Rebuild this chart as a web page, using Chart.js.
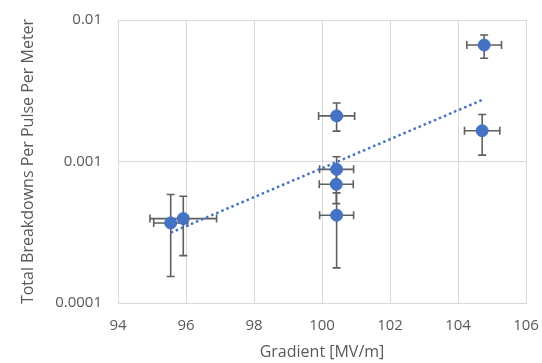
<!DOCTYPE html>
<html>
<head>
<meta charset="utf-8">
<script src="https://cdn.jsdelivr.net/npm/chart.js@4"></script>
<style>
  html, body { margin: 0; padding: 0; background: #fff; }
  #wrap { width: 542px; height: 363px; }
</style>
</head>
<body>
<div id="wrap"><canvas id="myChart" width="542" height="363"></canvas></div>
<script>
// measured points
const gradient = [95.55, 95.92, 100.43, 100.43, 100.42, 100.43, 104.77, 104.71];
const gradErr  = [0.50, 0.98, 0.53, 0.50, 0.50, 0.50, 0.51, 0.52];
const rate     = [3.68e-4, 3.95e-4, 2.10e-3, 8.8e-4, 6.9e-4, 4.17e-4, 6.65e-3, 1.65e-3];
const rateHigh = [5.84e-4, 5.68e-4, 2.59e-3, 1.08e-3, 8.8e-4, 6.0e-4, 7.83e-3, 2.15e-3];
const rateLow  = [1.54e-4, 2.16e-4, 1.64e-3, 7.0e-4, 5.04e-4, 1.77e-4, 5.36e-3, 1.11e-3];

// exponential trendline (straight on log axis)
const trendX = [95.55, 104.77];
const trendY = [3.14e-4, 2.76e-3];

const xTicks = [94, 96, 98, 100, 102, 104, 106];
const yTicks = [0.0001, 0.001, 0.01];

const textColor = '#595959';
const gridColor = '#d9d9d9';
const fontFamily = '"Open Sans", Lato, sans-serif';

const errorBarPlugin = {
    id: 'errorBars',
    beforeDatasetsDraw(chart) {
        const ctx = chart.ctx;
        const x = chart.scales.x;
        const y = chart.scales.y;
        const cap = 4;
        ctx.save();
        ctx.strokeStyle = '#5f5f5f';
        ctx.lineWidth = 1.6;
        gradient.forEach((g, i) => {
            const px = x.getPixelForValue(g);
            const py = y.getPixelForValue(rate[i]);
            const xl = x.getPixelForValue(g - gradErr[i]);
            const xr = x.getPixelForValue(g + gradErr[i]);
            const yt = y.getPixelForValue(rateHigh[i]);
            const yb = y.getPixelForValue(rateLow[i]);
            ctx.beginPath();
            ctx.moveTo(xl, py); ctx.lineTo(xr, py);
            ctx.moveTo(xl, py - cap); ctx.lineTo(xl, py + cap);
            ctx.moveTo(xr, py - cap); ctx.lineTo(xr, py + cap);
            ctx.moveTo(px, yt); ctx.lineTo(px, yb);
            ctx.moveTo(px - cap, yt); ctx.lineTo(px + cap, yt);
            ctx.moveTo(px - cap, yb); ctx.lineTo(px + cap, yb);
            ctx.stroke();
        });
        ctx.restore();
    }
};

const ctx = document.getElementById('myChart');
new Chart(ctx, {
    type: 'scatter',
    data: {
        datasets: [
            {
                label: 'Data',
                data: gradient.map((g, i) => ({ x: g, y: rate[i] })),
                backgroundColor: '#4472C4',
                borderColor: '#4472C4',
                pointRadius: 6,
                pointHoverRadius: 6,
                order: 1
            },
            {
                label: 'Trend',
                type: 'line',
                data: trendX.map((t, i) => ({ x: t, y: trendY[i] })),
                borderColor: '#4472C4',
                borderWidth: 2.5,
                borderDash: [2.5, 3],
                borderCapStyle: 'butt',
                pointRadius: 0,
                fill: false,
                order: 2
            }
        ]
    },
    options: {
        responsive: false,
        animation: false,
        layout: { padding: { top: 20, right: 16, left: 0, bottom: 0 } },
        plugins: {
            legend: { display: false },
            tooltip: { enabled: false }
        },
        scales: {
            x: {
                type: 'linear',
                min: 94,
                max: 106,
                afterBuildTicks: s => { s.ticks = xTicks.map(v => ({ value: v })); },
                afterFit: s => { s.height = 60; s.paddingLeft = 0; s.paddingRight = 0; },
                grid: { color: gridColor, lineWidth: 1, drawTicks: false },
                border: { color: gridColor },
                ticks: { color: textColor, padding: 14, font: { family: fontFamily, size: 15 } },
                title: {
                    display: true,
                    text: 'Gradient [MV/m]',
                    color: textColor,
                    padding: { top: 0, bottom: 1 },
                    font: { family: fontFamily, size: 16 }
                }
            },
            y: {
                type: 'logarithmic',
                min: 0.0001,
                max: 0.01,
                afterBuildTicks: s => { s.ticks = yTicks.map(v => ({ value: v })); },
                afterFit: s => { s.width = 118; s.paddingTop = 0; s.paddingBottom = 0; },
                grid: { color: gridColor, lineWidth: 1, drawTicks: false },
                border: { color: gridColor },
                ticks: {
                    color: textColor,
                    padding: 16,
                    font: { family: fontFamily, size: 15 },
                    callback: v => String(v)
                },
                title: {
                    display: true,
                    text: 'Total Breakdowns Per Pulse Per Meter',
                    color: textColor,
                    padding: { top: 19, bottom: 0 },
                    font: { family: fontFamily, size: 16 }
                }
            }
        }
    },
    plugins: [errorBarPlugin, {
        id: 'frame',
        afterDraw(chart) {
            const a = chart.chartArea;
            const c = chart.ctx;
            c.save();
            c.strokeStyle = gridColor;
            c.lineWidth = 1;
            c.strokeRect(a.left + 0.5, a.top + 0.5, a.right - a.left, a.bottom - a.top);
            c.restore();
        }
    }]
});
</script>
</body>
</html>
